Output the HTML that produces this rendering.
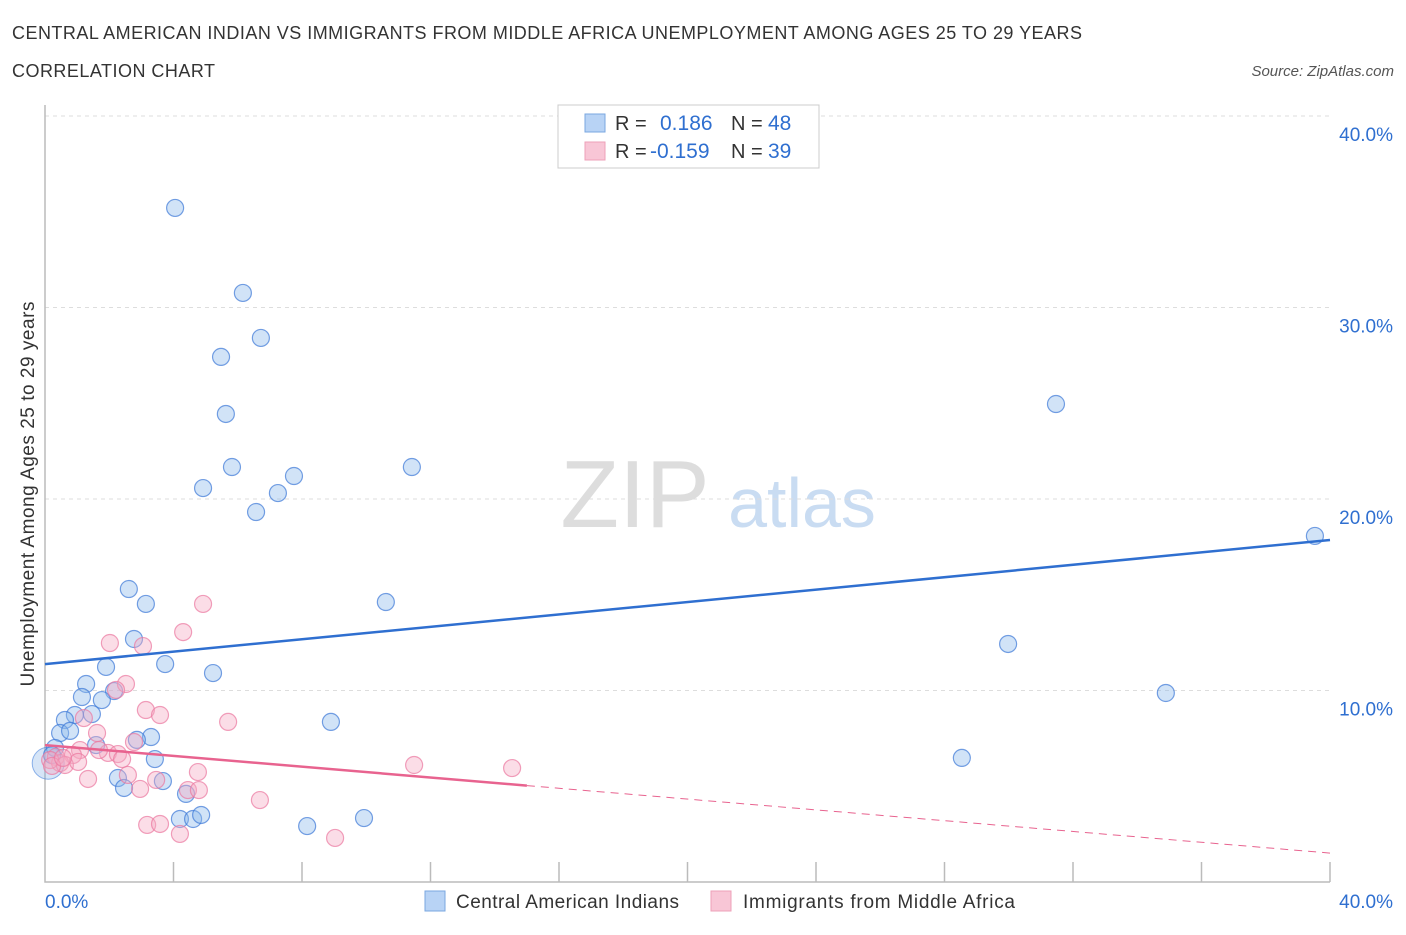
<!DOCTYPE html>
<html><head><meta charset="utf-8"><style>
body{margin:0;background:#fff;font-family:"Liberation Sans",sans-serif;}
svg text{font-family:"Liberation Sans",sans-serif;}
</style></head><body>
<svg id="chart" width="1406" height="930">
<text x="12" y="39" font-size="18" fill="#333" textLength="1070">CENTRAL AMERICAN INDIAN VS IMMIGRANTS FROM MIDDLE AFRICA UNEMPLOYMENT AMONG AGES 25 TO 29 YEARS</text>
<text x="12" y="77" font-size="18" fill="#333" textLength="203">CORRELATION CHART</text>
<text x="1394" y="76" font-size="15" fill="#555" font-style="italic" text-anchor="end">Source: ZipAtlas.com</text>
<text x="635" y="527" font-size="96" fill="#ddd" font-family="Liberation Serif" text-anchor="middle">ZIP</text>
<text x="802" y="527" font-size="70" fill="#c9dcf2" text-anchor="middle">atlas</text>
<text transform="translate(34,494) rotate(-90)" font-size="19" fill="#333" text-anchor="middle" textLength="385">Unemployment Among Ages 25 to 29 years</text>
<g id="grid"></g><g id="marks"></g>
<g>
<rect x="558" y="105" width="261" height="63" fill="#fff" stroke="#ccc"/>
<rect x="585" y="114" width="20" height="18" fill="#b8d3f5" stroke="#7aa7e0"/>
<rect x="585" y="142" width="20" height="18" fill="#f8c6d6" stroke="#eea0b8"/>
<text x="615" y="130" font-size="20" fill="#333">R = </text><text x="660" y="130" font-size="21" fill="#2f6fd0">0.186</text>
<text x="731" y="130" font-size="20" fill="#333">N = </text><text x="768" y="130" font-size="21" fill="#2f6fd0">48</text>
<text x="615" y="158" font-size="20" fill="#333">R = </text><text x="650" y="158" font-size="21" fill="#2f6fd0">-0.159</text>
<text x="731" y="158" font-size="20" fill="#333">N = </text><text x="768" y="158" font-size="21" fill="#2f6fd0">39</text>
</g>
<g>
<rect x="425" y="891" width="20" height="20" fill="#b8d3f5" stroke="#7aa7e0"/>
<text x="456" y="908" font-size="19" fill="#333" textLength="223">Central American Indians</text>
<rect x="711" y="891" width="20" height="20" fill="#f8c6d6" stroke="#eea0b8"/>
<text x="743" y="908" font-size="19" fill="#333" textLength="272">Immigrants from Middle Africa</text>
</g>
</svg>
<script>
const yTicks=[10,20,30,40];
const blueX=[4.05,6.16,6.72,5.48,5.63,5.82,4.92,7.25,6.57,7.75,11.42,31.47,39.53,2.61,3.14,10.61,2.77,3.74,1.9,5.23,1.28,2.15,1.15,1.77,1.46,0.93,0.62,8.9,0.47,0.78,3.3,2.86,1.59,0.31,0.22,3.42,28.54,29.98,34.89,2.27,3.67,2.46,4.39,4.2,4.61,4.86,8.16,9.93];
const blueY=[35.2,30.76,28.41,27.42,24.44,21.67,20.57,20.31,19.32,21.2,21.67,24.96,18.07,15.3,14.52,14.62,12.69,11.38,11.23,10.91,10.34,9.97,9.66,9.5,8.77,8.72,8.46,8.36,7.78,7.89,7.57,7.42,7.15,7.0,6.63,6.42,6.48,12.43,9.87,5.43,5.27,4.91,4.6,3.29,3.29,3.5,2.92,3.34];
const pinkX=[4.92,4.3,2.02,3.05,2.52,2.21,1.21,3.14,5.7,1.62,2.77,1.96,2.27,1.09,0.87,0.34,0.47,2.4,1.34,2.58,3.46,11.49,14.54,4.76,2.96,4.45,4.79,3.18,3.58,4.2,6.69,9.03,0.16,0.62,1.68,1.03,3.58,0.22,0.56];
const pinkY=[14.52,13.05,12.48,12.32,10.34,10.03,8.56,8.98,8.36,7.78,7.31,6.74,6.68,6.89,6.63,6.53,6.21,6.42,5.38,5.59,5.33,6.11,5.95,5.74,4.86,4.8,4.8,2.98,3.03,2.51,4.28,2.3,6.37,6.11,6.89,6.27,8.72,6.06,6.48];
const blueTrend=[11.38,0.162];
const pinkTrend=[7.15,-0.141];
const X=v=>45+v*32.125, Y=v=>882-v*19.15;
const NS='http://www.w3.org/2000/svg';
const grid=document.getElementById('grid'), marks=document.getElementById('marks');
function mk(tag,attrs,parent){const e=document.createElementNS(NS,tag);for(const k in attrs)e.setAttribute(k,attrs[k]);parent.appendChild(e);return e;}
yTicks.forEach(t=>{
 const l=mk('line',{x1:45,x2:1330,y1:Y(t),y2:Y(t),stroke:'#ddd','stroke-dasharray':'4,4'},grid);
 
 
 const tx=mk('text',{x:1393,y:Y(t)+25,'font-size':19,fill:'#2f6fd0','text-anchor':'end'},grid);
 tx.textContent=t.toFixed(1)+'%';
 
 
});
for(let i=1;i<=10;i++){const tk=mk('line',{x1:X(i*4),x2:X(i*4),y1:862,y2:882,stroke:'#bbb','stroke-width':1.5},grid);
 
 }
const ax=mk('path',{d:'M45 105 V882 H1330',fill:'none',stroke:'#bbb','stroke-width':1.5},grid);


[['0.0%',45,'start'],['40.0%',1393,'end']].forEach(a=>{const t=mk('text',{x:a[1],y:908,'font-size':19,fill:'#2f6fd0','text-anchor':a[2]},grid);t.textContent=a[0];
 
 });
const big=mk('circle',{cx:X(0.1),cy:Y(6.2),r:16,fill:'rgba(120,170,230,0.3)',stroke:'rgba(70,130,220,0.6)'},marks);


blueX.forEach((v,i)=>{const c=mk('circle',{cx:X(v),cy:Y(blueY[i]),r:8.5,fill:'rgba(140,185,235,0.4)',stroke:'rgba(60,120,215,0.7)','stroke-width':1.2},marks);
 
 });
pinkX.forEach((v,i)=>{const c=mk('circle',{cx:X(v),cy:Y(pinkY[i]),r:8.5,fill:'rgba(245,170,195,0.4)',stroke:'rgba(235,120,160,0.7)','stroke-width':1.2},marks);
 
 });
const bl=mk('line',{x1:X(0),y1:Y(blueTrend[0]),x2:X(40),y2:Y(blueTrend[0]+40*blueTrend[1]),stroke:'#2f6fd0','stroke-width':2.5},marks);


const pl=mk('line',{x1:X(0),y1:Y(pinkTrend[0]),x2:X(15),y2:Y(pinkTrend[0]+15*pinkTrend[1]),stroke:'#e8638f','stroke-width':2.5},marks);


const pd=mk('line',{x1:X(15),y1:Y(pinkTrend[0]+15*pinkTrend[1]),x2:X(40),y2:Y(pinkTrend[0]+40*pinkTrend[1]),stroke:'#e8638f','stroke-width':1,'stroke-dasharray':'8,6'},marks);


</script>
</body></html>
